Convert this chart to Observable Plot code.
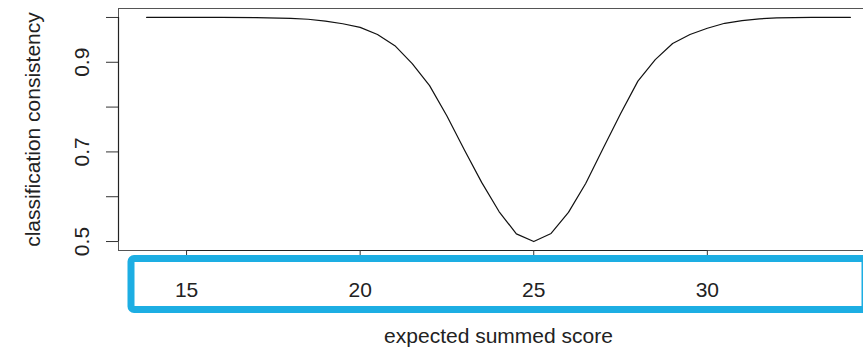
<!DOCTYPE html>
<html>
<head>
<meta charset="utf-8">
<script src="https://cdn.jsdelivr.net/npm/d3@7"></script>
<script src="https://cdn.jsdelivr.net/npm/@observablehq/plot@0.6"></script>
<style>
  html, body { margin: 0; padding: 0; background: #fff; }
  svg { display: block; }
</style>
</head>
<body>
<div id="chart"></div>
<script>
const scores = [13.85, 15, 16, 17, 18, 18.5, 19, 19.5, 20, 20.5, 21, 21.5, 22, 22.5, 23, 23.5, 24, 24.5, 25,
                25.5, 26, 26.5, 27, 27.5, 28, 28.5, 29, 29.5, 30, 30.5, 31, 31.5, 32, 33, 34.12];
const consistency = [1.0, 1.0, 1.0, 0.9995, 0.998, 0.996, 0.992, 0.986, 0.978, 0.962, 0.937, 0.897, 0.848, 0.78, 0.705, 0.632, 0.567, 0.517, 0.5,
                     0.518, 0.565, 0.63, 0.708, 0.785, 0.858, 0.906, 0.942, 0.962, 0.976, 0.987, 0.993, 0.997, 0.999, 1.0, 1.0];
const xTicks = [15, 20, 25, 30];
const yTicks = [0.5, 0.6, 0.7, 0.8, 0.9, 1.0];
const yLabels = [0.5, 0.7, 0.9];
const xTitle = "expected summed score";
const yTitle = "classification consistency";

const data = scores.map((s, i) => ({score: s, consistency: consistency[i]}));

const font = "'Liberation Sans', Arial, Helvetica, sans-serif";

const chart = Plot.plot({
  width: 863,
  height: 353,
  marginLeft: 118,
  marginRight: -15,
  marginTop: 8,
  marginBottom: 103,
  x: {domain: [13.04, 34.93], axis: null},
  y: {domain: [0.48, 1.02], axis: null},
  style: {fontFamily: font, fontSize: "21px", background: "white", color: "#222", overflow: "hidden"},
  marks: [
    Plot.frame({stroke: "#555", strokeWidth: 1}),
    Plot.line(data, {x: "score", y: "consistency", stroke: "#111", strokeWidth: 1.2}),
    // x axis: line from first to last tick, ticks, labels
    Plot.ruleY([0.48], {x1: d3.min(xTicks), x2: d3.max(xTicks), stroke: "#222", strokeWidth: 1.2}),
    Plot.axisX(xTicks, {anchor: "bottom", tickSize: 12, tickPadding: 20, tickFormat: d => String(d),
                        fontSize: 21, stroke: "#333", fill: "#222", label: null}),
    // y axis ticks
    Plot.axisY(yTicks, {anchor: "left", tickSize: 12, tickFormat: () => "", stroke: "#333", label: null}),
    Plot.ruleX([13.04], {y1: d3.min(yTicks), y2: d3.max(yTicks), stroke: "#222", strokeWidth: 1.2}),
    // rotated y labels
    Plot.text(yLabels, {y: d => d, frameAnchor: "left", dx: -36, rotate: -90, text: d => d3.format(".1f")(d),
                        textAnchor: "middle", lineAnchor: "middle", fontSize: 21, fill: "#222"}),
    // titles
    Plot.text([xTitle], {frameAnchor: "bottom", dy: 86, text: d => d, textAnchor: "middle",
                         lineAnchor: "middle", fontSize: 21, fill: "#222"}),
    Plot.text([yTitle], {frameAnchor: "left", dx: -85, rotate: -90, text: d => d, textAnchor: "middle",
                         lineAnchor: "middle", fontSize: 21, fill: "#222"})
  ]
});

// blue highlight box around the x tick labels (annotation)
const svg = d3.select(chart);
svg.append("rect")
  .attr("x", 131).attr("y", 258.5)
  .attr("width", 734).attr("height", 51)
  .attr("rx", 3).attr("ry", 3)
  .attr("fill", "none")
  .attr("stroke", "#1daee3")
  .attr("stroke-width", 7);

document.getElementById("chart").appendChild(chart);
</script>
</body>
</html>
